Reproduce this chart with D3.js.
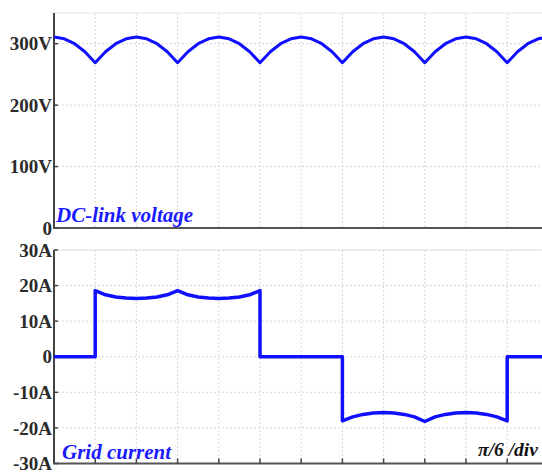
<!DOCTYPE html>
<html>
<head>
<meta charset="utf-8">
<style>
  body { margin: 0; background: #fff; }
  svg { display: block; }
</style>
</head>
<body>
<svg id="chart" width="542" height="475"></svg>
<script src="https://d3js.org/d3.v7.min.js"></script>
<script>
// DC-link voltage, sampled every quarter division (pi/24)
var vDiv = [0, 0.25, 0.5, 0.75, 1, 1.25, 1.5, 1.75, 2, 2.25, 2.5, 2.75, 3, 3.25, 3.5, 3.75,
            4, 4.25, 4.5, 4.75, 5, 5.25, 5.5, 5.75, 6, 6.25, 6.5, 6.75, 7, 7.25, 7.5, 7.75,
            8, 8.25, 8.5, 8.75, 9, 9.25, 9.5, 9.75, 10, 10.25, 10.5, 10.75, 11, 11.25, 11.5, 11.75, 12];
var vVals = [311, 308, 300, 287, 269, 287, 300, 308, 311, 308, 300, 287, 269, 287, 300, 308,
             311, 308, 300, 287, 269, 287, 300, 308, 311, 308, 300, 287, 269, 287, 300, 308,
             311, 308, 300, 287, 269, 287, 300, 308, 311, 308, 300, 287, 269, 287, 300, 308, 311];

// grid current
var iDiv = [0, 1, 1, 1.25, 1.5, 1.75, 2, 2.25, 2.5, 2.75, 3, 3.25, 3.5, 3.75, 4, 4.25, 4.5, 4.75, 5, 5,
            7, 7, 7.25, 7.5, 7.75, 8, 8.25, 8.5, 8.75, 9, 9.25, 9.5, 9.75, 10, 10.25, 10.5, 10.75, 11, 11, 12];
var iVals = [0, 0, 18.6, 17.4, 16.8, 16.5, 16.4, 16.5, 16.8, 17.4, 18.6, 17.4, 16.8, 16.5, 16.4, 16.5, 16.8, 17.4, 18.6, 0,
             0, -18.0, -16.9, -16.2, -15.8, -15.7, -15.8, -16.2, -16.9, -18.2, -16.9, -16.2, -15.8, -15.7, -15.8, -16.2, -16.9, -18.0, 0, 0];

var vTicks = [0, 100, 200, 300];
var vTickLabels = ["0", "100V", "200V", "300V"];
var iTicks = [-30, -20, -10, 0, 10, 20, 30];
var iTickLabels = ["-30A", "-20A", "-10A", "0", "10A", "20A", "30A"];
var divTicks = [1, 2, 3, 4, 5, 6, 7, 8, 9, 10, 11, 12];

var serif = "'Liberation Serif', 'Times New Roman', Times, 'DejaVu Serif', serif";

var svg = d3.select("#chart"),
    left = 54, right = 54 + 12 * 41.2;

var x = d3.scaleLinear().domain([0, 12]).range([left, right]);
var yV = d3.scaleLinear().domain([0, 350]).range([228, 13]);
var yI = d3.scaleLinear().domain([-30, 30]).range([463.5, 250]);

function panel(y, ticks, labels, topVal, botVal, xTicks) {
    var g = svg.append("g");
    // grid
    g.selectAll(".vg").data(divTicks).enter().append("line")
        .attr("x1", function(d) { return x(d); }).attr("x2", function(d) { return x(d); })
        .attr("y1", y(topVal)).attr("y2", y(botVal))
        .attr("stroke", "#d8d8d8").attr("stroke-dasharray", "2,2");
    g.selectAll(".hg").data(ticks.filter(function(t) { return t !== botVal; })).enter().append("line")
        .attr("x1", left).attr("x2", 542)
        .attr("y1", function(d) { return y(d); }).attr("y2", function(d) { return y(d); })
        .attr("stroke", "#d8d8d8").attr("stroke-dasharray", "2,2");
    g.append("line").attr("x1", left).attr("x2", 542)
        .attr("y1", y(topVal)).attr("y2", y(topVal)).attr("stroke", "#e4e4e4");

    // axes
    g.append("line").attr("x1", left).attr("x2", left)
        .attr("y1", y(topVal)).attr("y2", y(botVal))
        .attr("stroke", "#444").attr("stroke-width", 2);
    g.append("line").attr("x1", left - 1).attr("x2", 542)
        .attr("y1", y(botVal)).attr("y2", y(botVal))
        .attr("stroke", "#555").attr("stroke-width", 2);
    g.selectAll(".yt").data(ticks).enter().append("line")
        .attr("x1", left).attr("x2", left + 4)
        .attr("y1", function(d) { return y(d); }).attr("y2", function(d) { return y(d); })
        .attr("stroke", "#444").attr("stroke-width", 1.5);
    g.selectAll(".yl").data(ticks).enter().append("text")
        .attr("font-family", serif)
        .attr("font-size", 19)
        .attr("font-weight", "bold")
        .attr("fill", "#2b2b2b")
        .attr("x", left - 2)
        .attr("y", function(d) { return y(d); })
        .attr("dy", "0.35em")
        .attr("text-anchor", "end")
        .text(function(d, i) { return labels[i]; });
    if (xTicks) {
        g.selectAll(".xt").data(divTicks).enter().append("line")
            .attr("x1", function(d) { return x(d); }).attr("x2", function(d) { return x(d); })
            .attr("y1", y(botVal)).attr("y2", y(botVal) - 5)
            .attr("stroke", "#444").attr("stroke-width", 1.5);
    }
}

panel(yV, vTicks, vTickLabels, 350, 0, false);
panel(yI, iTicks, iTickLabels, 30, -30, true);

var lineV = d3.line()
    .x(function(d, i) { return x(vDiv[i]); })
    .y(function(d) { return yV(d); });
svg.append("path").datum(vVals)
    .attr("d", lineV)
    .attr("fill", "none").attr("stroke", "#1010ff").attr("stroke-width", 3)
    .attr("stroke-linejoin", "round");

var lineI = d3.line()
    .x(function(d, i) { return x(iDiv[i]); })
    .y(function(d) { return yI(d); });
svg.append("path").datum(iVals)
    .attr("d", lineI)
    .attr("fill", "none").attr("stroke", "#1010ff").attr("stroke-width", 3.5)
    .attr("stroke-linejoin", "round");

function title(tx, ty, color, str, size) {
    svg.append("text")
        .attr("font-family", serif).attr("font-size", size)
        .attr("font-weight", "bold").attr("font-style", "italic")
        .attr("x", tx).attr("y", ty).attr("fill", color).text(str);
}
title(56, 222, "#1a1aff", "DC-link voltage", 21);
title(62, 459, "#1a1aff", "Grid current", 21);
title(478, 456, "#111", "π/6 /div", 19.5);
</script>
</body>
</html>
